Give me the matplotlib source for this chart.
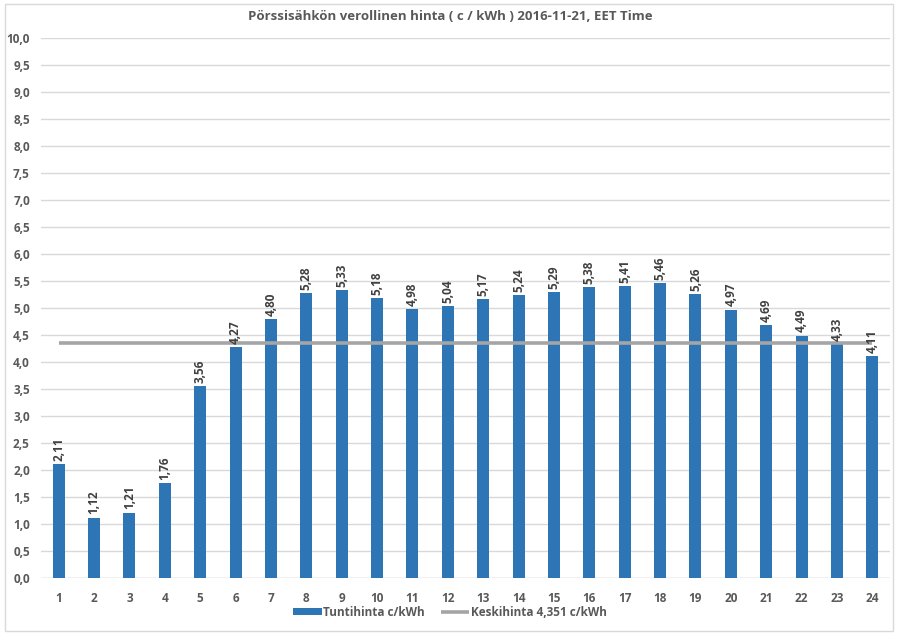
import matplotlib
matplotlib.use("Agg")
import matplotlib.pyplot as plt
from matplotlib.patches import Rectangle

plt.rcParams['font.family'] = ['Open Sans', 'DejaVu Sans']

hours = list(range(1, 25))
prices = [2.11, 1.12, 1.21, 1.76, 3.56, 4.27, 4.80, 5.28, 5.33, 5.18, 4.98, 5.04,
          5.17, 5.24, 5.29, 5.38, 5.41, 5.46, 5.26, 4.97, 4.69, 4.49, 4.33, 4.11]
average = 4.351
title = "Pörssisähkön verollinen hinta ( c / kWh ) 2016-11-21, EET Time"
bar_label = "Tuntihinta c/kWh"
avg_label = "Keskihinta 4,351 c/kWh"
yticks = [i * 0.5 for i in range(21)]

W, H = 900, 636
fig = plt.figure(figsize=(W / 100, H / 100), dpi=100)
fig.patches.append(Rectangle((5 / W, 5 / H), 888 / W, 627 / H, transform=fig.transFigure,
                             fill=False, edgecolor='#D9D9D9', linewidth=1))
ax = fig.add_axes([41 / W, (H - 578) / H, (890 - 41) / W, (578 - 38) / H])

bar_color = '#2E75B6'
bars = ax.bar(hours, prices, width=0.34, color=bar_color, label=bar_label, zorder=3)
line, = ax.plot(hours, [average] * len(hours), color='#A5A5A5', linewidth=2.6, label=avg_label,
                zorder=4, solid_capstyle='butt')

for h, p in zip(hours, prices):
    ax.text(h, p + 0.06, f"{p:.2f}".replace('.', ','), rotation=90, ha='center', va='bottom',
            fontsize=8.5, fontweight='bold', color='#404040', zorder=5)

ax.set_xlim(0.5, 24.5)
ax.set_ylim(0, 10)
ax.set_yticks(yticks)
ax.set_yticklabels([f"{v:.1f}".replace('.', ',') for v in yticks])
ax.set_xticks(hours)
ax.set_xticklabels([str(h) for h in hours])
ax.tick_params(axis='both', length=0, labelsize=8.5, labelcolor='#595959')
for lbl in ax.get_xticklabels() + ax.get_yticklabels():
    lbl.set_fontweight('bold')
ax.tick_params(axis='x', pad=10)
ax.tick_params(axis='y', pad=8)
ax.yaxis.grid(True, color='#D9D9D9', linewidth=1, zorder=0)
for s in ax.spines.values():
    s.set_visible(False)
ax.axhline(0, color='#D9D9D9', linewidth=1, zorder=2)

fig.text(0.5, (H - 17) / H, title, ha='center', va='center', fontsize=9.5,
         fontweight='bold', color='#595959')

leg = fig.legend([bars, line], [bar_label, avg_label], loc='center',
                 bbox_to_anchor=(0.5, (H - 612) / H), ncol=2, frameon=False,
                 fontsize=8.5, handlelength=2.4, handleheight=0.6, columnspacing=1.4,
                 handletextpad=0.1)
for t in leg.get_texts():
    t.set_color('#595959')
    t.set_fontweight('bold')

fig.savefig("out.png", dpi=100)
